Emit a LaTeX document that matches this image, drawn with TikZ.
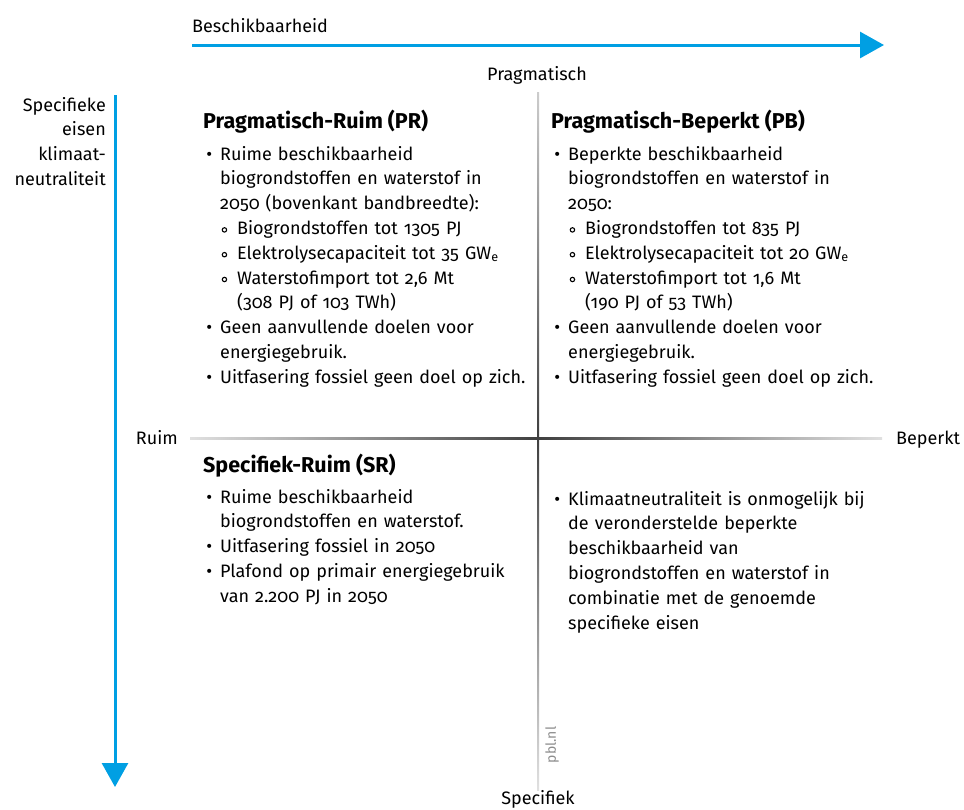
\documentclass[tikz,border=0pt]{standalone}
\usepackage{fontspec}
\setmainfont{Fira Sans}[Numbers=OldStyle]
\usetikzlibrary{arrows.meta,positioning}
\definecolor{pblblauw}{HTML}{009FE3}
\newcommand{\bl}{\leavevmode\llap{\textbullet\hspace{8pt}}}
\newcommand{\sbl}{\hspace*{17pt}\llap{\tikz[baseline=-4.5pt]\draw[line width=1.1pt] (0,0) circle (2.2pt);\hspace{10pt}}}
\tikzstyle{tekst} = [inner sep=0pt, font=\fontsize{18}{24.8}\selectfont]
\tikzstyle{kwadrant} = [tekst, anchor=base west, align=left, text width=340pt]
\tikzstyle{kop} = [inner sep=0pt, anchor=base west, font=\fontsize{21.5}{24}\selectfont\bfseries]
\tikzstyle{pijl} = [draw=pblblauw, line width=3pt, -{Triangle[length=24pt,width=26pt]}]

\begin{document}
\begin{tikzpicture}[x=1pt,y=-1pt]
  \useasboundingbox (0,0) rectangle (964,809);
  % assen
  \coordinate (links) at (190,438);
  \coordinate (rechts) at (882,438);
  \coordinate (boven) at (538,92);
  \coordinate (onder) at (538,790);
  \coordinate (midden) at (538,438);
  \shade[left color=black!12, right color=black!75] ([yshift=1pt]links) rectangle ([yshift=-1pt]midden);
  \shade[left color=black!75, right color=black!12] ([yshift=1pt]midden) rectangle ([yshift=-1pt]rechts);
  \shade[top color=black!20, bottom color=black!75] ([xshift=-1pt]boven) rectangle ([xshift=1pt]midden);
  \shade[top color=black!75, bottom color=black!12] ([xshift=-1pt]midden) rectangle ([xshift=1pt]onder);

  % blauwe pijlen
  \coordinate (bstart) at (192,45);
  \coordinate (beind) at (884,45);
  \coordinate (sstart) at (115,95);
  \coordinate (seind) at (115,787);
  \draw[pijl] (bstart) -- (beind);
  \draw[pijl] (sstart) -- (seind);

  % aslabels
  \node[tekst, anchor=base west] (beschik) at (192,32) {Beschikbaarheid};
  \node[tekst, anchor=base east, align=right, text width=110pt] (eisen) at (106,111)
    {Specifieke\\eisen\\klimaat-\\neutraliteit};
  \node[tekst, anchor=base] (pragm) at (537,80) {Pragmatisch};
  \node[tekst, anchor=base east] (ruim) at (178,444) {Ruim};
  \node[tekst, anchor=base west] (beperkt) at (896,444) {Beperkt};
  \node[tekst, anchor=base] (specifiek) at (538,804) {Specifiek};
  \node[inner sep=0pt, font=\fontsize{14}{14}\selectfont, text=black!45, rotate=90] (pbl) at (552,745) {pbl.nl};

  % kwadranten
  \node[kop] (pr) at (203,128) {Pragmatisch-Ruim (PR)};
  \node[kwadrant] (prtekst) at (220,160)
    {\bl Ruime beschikbaarheid\\
     biogrondstoffen en waterstof in\\
     2050 (bovenkant bandbreedte):\\
     \sbl Biogrondstoffen tot 1305 PJ\\
     \sbl Elektrolysecapaciteit tot 35 GW\textsubscript{e}\\
     \sbl Waterstofimport tot 2,6 Mt\\
     \hspace*{17pt}(308 PJ of 103 TWh)\\
     \bl Geen aanvullende doelen voor\\
     energiegebruik.\\
     \bl Uitfasering fossiel geen doel op zich.};

  \node[kop] (pb) at (551,128) {Pragmatisch-Beperkt (PB)};
  \node[kwadrant] (pbtekst) at (568,160)
    {\bl Beperkte beschikbaarheid\\
     biogrondstoffen en waterstof in\\
     2050:\\
     \sbl Biogrondstoffen tot 835 PJ\\
     \sbl Elektrolysecapaciteit tot 20 GW\textsubscript{e}\\
     \sbl Waterstofimport tot 1,6 Mt\\
     \hspace*{17pt}(190 PJ of 53 TWh)\\
     \bl Geen aanvullende doelen voor\\
     energiegebruik.\\
     \bl Uitfasering fossiel geen doel op zich.};

  \node[kop] (sr) at (203,472) {Specifiek-Ruim (SR)};
  \node[kwadrant] (srtekst) at (220,503)
    {\bl Ruime beschikbaarheid\\
     biogrondstoffen en waterstof.\\
     \bl Uitfasering fossiel in 2050\\
     \bl Plafond op primair energiegebruik\\
     van 2.200 PJ in 2050};

  \node[kwadrant] (sbtekst) at (568,505)
    {\bl Klimaatneutraliteit is onmogelijk bij\\
     de veronderstelde beperkte\\
     beschikbaarheid van\\
     biogrondstoffen en waterstof in\\
     combinatie met de genoemde\\
     specifieke eisen};
\end{tikzpicture}
\end{document}
